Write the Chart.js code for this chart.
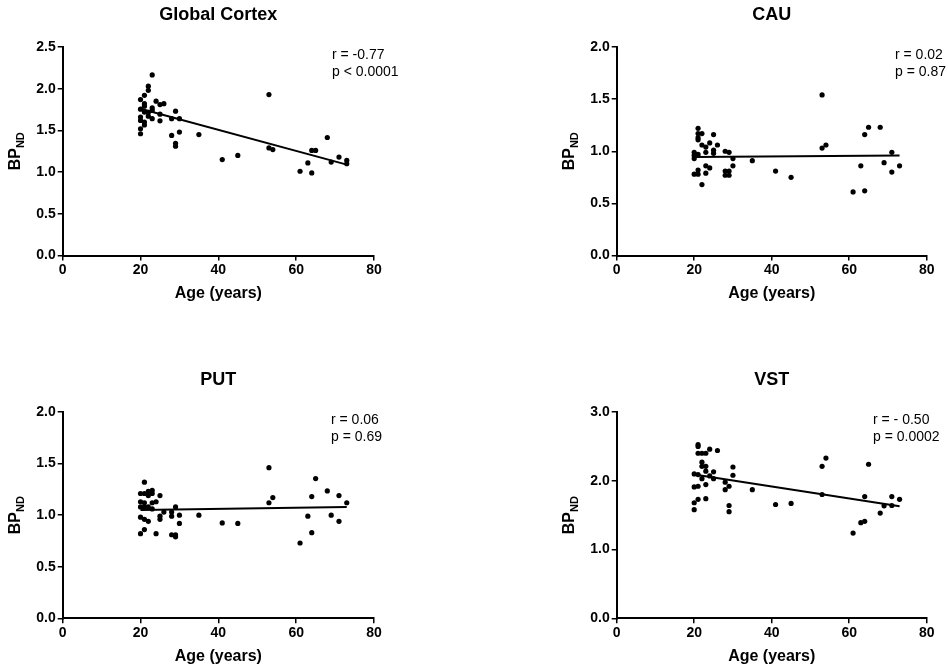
<!DOCTYPE html>
<html lang="en">
<head>
    <meta charset="UTF-8">
    <title>BPND vs Age</title>
    <style>
        body {
            margin: 0;
            width: 948px;
            height: 670px;
            overflow: hidden;
            background: #ffffff;
            position: relative;
        }
        .panel {
            position: absolute;
            width: 474px;
            height: 335px;
        }
    </style>
    <script src="https://cdn.jsdelivr.net/npm/chart.js"></script>
</head>
<body>

    <div class="panel" style="left:0;top:0"><canvas id="chart1" width="474" height="335"></canvas></div>
    <div class="panel" style="left:474px;top:0"><canvas id="chart2" width="474" height="335"></canvas></div>
    <div class="panel" style="left:0;top:335px"><canvas id="chart3" width="474" height="335"></canvas></div>
    <div class="panel" style="left:474px;top:335px"><canvas id="chart4" width="474" height="335"></canvas></div>

    <script>
        // Global Cortex
        const cortexAge = [20,20,20,20,20,20, 21,21,21,21,21,21, 22,22,22,22, 23,23,23,23, 24, 25,25,25, 26, 28,28, 29,29,29, 30,30, 35, 41, 45, 53,53, 54, 61, 63, 64,64, 65, 68, 69, 71, 73,73];
        const cortexBP  = [1.87,1.755,1.66,1.62,1.52,1.46, 1.92,1.82,1.79,1.72,1.60,1.565, 2.03,1.98,1.715,1.67, 2.165,1.77,1.74,1.64, 1.85, 1.81,1.695,1.615, 1.82, 1.64,1.44, 1.73,1.345,1.31, 1.64,1.48, 1.45, 1.15, 1.20, 1.93,1.29, 1.27, 1.01, 1.11, 1.26,0.99, 1.26, 1.415, 1.12, 1.18, 1.14,1.10];
        const cortexFitX = [20, 73];
        const cortexFitY = [1.76, 1.09];

        // CAU
        const cauAge = [20,20,20,20, 21,21,21,21,21,21,21, 22,22,22, 23,23,23,23, 24,24, 25,25,25, 26, 28,28,28, 29,29,29, 30,30, 35, 41, 45, 53,53, 54, 61, 63, 64,64, 65, 68, 69, 71,71, 73];
        const cauBP  = [0.99,0.96,0.93,0.78, 1.22,1.17,1.13,1.11,0.97,0.82,0.78, 1.17,1.06,0.68, 1.04,0.99,0.86,0.79, 1.08,0.84, 1.16,1.01,0.98, 1.06, 1.00,0.81,0.77, 0.99,0.81,0.77, 0.93,0.86, 0.91, 0.81, 0.75, 1.54,1.03, 1.06, 0.61, 0.86, 1.16,0.62, 1.23, 1.23, 0.89, 0.99,0.80, 0.86];
        const cauFitX = [20, 73];
        const cauFitY = [0.945, 0.96];

        // PUT
        const putAge = [20,20,20,20,20, 21,21,21,21,21,21, 22,22,22,22, 23,23,23,23, 24,24, 25,25,25, 26, 28,28,28, 29,29,29, 30,30, 35, 41, 45, 53,53, 54, 61, 63, 64,64, 65, 68, 69, 71,71, 73];
        const putBP  = [1.21,1.13,1.08,0.98,0.82, 1.32,1.21,1.12,1.08,0.96,0.86, 1.23,1.19,1.08,0.94, 1.24,1.21,1.12,1.06, 1.13,0.82, 1.19,0.99,0.96, 1.03, 1.03,0.99,0.81, 1.08,0.81,0.79, 1.00,0.92, 1.00, 0.925, 0.92, 1.46,1.12, 1.17, 0.73, 0.99, 1.18,0.83, 1.355, 1.235, 1.00, 1.19,0.94, 1.12];
        const putFitX = [20, 73];
        const putFitY = [1.05, 1.08];

        // VST
        const vstAge = [20,20,20,20, 21,21,21,21,21,21, 22,22,22,22, 23,23,23,23,23, 24,24, 25,25, 26, 28,28, 29,29,29, 30,30, 35, 41, 45, 53,53, 54, 61, 63, 64,64, 65, 68, 69, 71,71, 73];
        const vstBP  = [2.10,1.91,1.68,1.58, 2.525,2.50,2.40,2.09,1.92,1.73, 2.40,2.27,2.21,2.03, 2.40,2.21,2.14,1.945,1.74, 2.46,2.07, 2.13,2.03, 2.44, 1.98,1.87, 1.92,1.64,1.55, 2.20,2.08, 1.87, 1.655, 1.67, 2.21,1.80, 2.33, 1.24, 1.39, 1.77,1.41, 2.24, 1.53, 1.635, 1.77,1.64, 1.73];
        const vstFitX = [20, 73];
        const vstFitY = [2.09, 1.63];

        const titles = ['Global Cortex', 'CAU', 'PUT', 'VST'];
        const statR = ['r = -0.77', 'r = 0.02', 'r = 0.06', 'r = - 0.50'];
        const statP = ['p < 0.0001', 'p = 0.87', 'p = 0.69', 'p = 0.0002'];
        const yMax = [2.5, 2.0, 2.0, 3.0];
        const yStep = [0.5, 0.5, 0.5, 1.0];
        const xTicks = [0, 20, 40, 60, 80];

        const FONT = "'Liberation Sans', Arial, sans-serif";
        Chart.defaults.font.family = FONT;
        Chart.defaults.color = '#000';

        // plot area of each panel inside its 474x335 canvas
        const panels = [
            { id: 'chart1', l: 62.7, r: 374, t: 47, b: 255.5, textX: 332, age: cortexAge, bp: cortexBP, fx: cortexFitX, fy: cortexFitY },
            { id: 'chart2', l: 142.7, r: 452.7, t: 47, b: 255.5, textX: 421, age: cauAge, bp: cauBP, fx: cauFitX, fy: cauFitY },
            { id: 'chart3', l: 62.7, r: 374, t: 77, b: 283.3, textX: 331, age: putAge, bp: putBP, fx: putFitX, fy: putFitY },
            { id: 'chart4', l: 142.7, r: 452.7, t: 77, b: 283.3, textX: 399, age: vstAge, bp: vstBP, fx: vstFitX, fy: vstFitY }
        ];

        // titles, axis titles and r / p text
        const panelText = {
            id: 'panelText',
            afterDraw(chart, args, opts) {
                const ctx = chart.ctx;
                const a = chart.chartArea;
                const cx = (a.left + a.right) / 2;
                const cy = (a.top + a.bottom) / 2;
                ctx.save();
                ctx.fillStyle = '#000';
                ctx.textBaseline = 'middle';

                ctx.textAlign = 'center';
                ctx.font = 'bold 18px ' + FONT;
                ctx.fillText(opts.title, cx, a.top - 32);

                ctx.font = 'bold 16px ' + FONT;
                ctx.fillText('Age (years)', cx, a.bottom + 38);

                ctx.textAlign = 'left';
                ctx.font = '14px ' + FONT;
                ctx.fillText(opts.r, opts.textX, a.top + 8);
                ctx.fillText(opts.p, opts.textX, a.top + 25);

                // BP with ND subscript, rotated
                ctx.translate(a.left - 47, cy);
                ctx.rotate(-Math.PI / 2);
                ctx.font = 'bold 16px ' + FONT;
                const w1 = ctx.measureText('BP').width;
                ctx.font = 'bold 11px ' + FONT;
                const w2 = ctx.measureText('ND').width;
                const x0 = -(w1 + w2) / 2;
                ctx.font = 'bold 16px ' + FONT;
                ctx.fillText('BP', x0, 0);
                ctx.font = 'bold 11px ' + FONT;
                ctx.fillText('ND', x0 + w1, 5);
                ctx.restore();
            }
        };

        panels.forEach((p, i) => {
            const points = p.age.map((a, k) => ({ x: a, y: p.bp[k] }));
            const fit = p.fx.map((a, k) => ({ x: a, y: p.fy[k] }));
            const H = 335, W = 474;

            new Chart(document.getElementById(p.id), {
                type: 'scatter',
                data: {
                    datasets: [
                        {
                            data: fit,
                            showLine: true,
                            borderColor: '#000',
                            borderWidth: 2,
                            pointRadius: 0
                        },
                        {
                            data: points,
                            backgroundColor: '#000',
                            borderColor: '#000',
                            pointRadius: 2.6,
                            borderWidth: 0
                        }
                    ]
                },
                options: {
                    responsive: false,
                    animation: false,
                    layout: {
                        padding: { left: p.l - 62, right: W - p.r, top: p.t, bottom: 0 }
                    },
                    plugins: {
                        legend: { display: false },
                        tooltip: { enabled: false },
                        panelText: { title: titles[i], r: statR[i], p: statP[i], textX: p.textX }
                    },
                    scales: {
                        x: {
                            type: 'linear',
                            min: 0,
                            max: 80,
                            afterFit(scale) { scale.height = H - p.b; },
                            afterBuildTicks(scale) { scale.ticks = xTicks.map(v => ({ value: v })); },
                            border: { color: '#000', width: 2 },
                            grid: { drawOnChartArea: false, drawTicks: true, tickLength: 5, color: '#000', lineWidth: 1.5 },
                            ticks: { font: { size: 14, weight: 'bold' }, padding: 1, color: '#000', maxRotation: 0 }
                        },
                        y: {
                            min: 0,
                            max: yMax[i],
                            afterFit(scale) { scale.width = 62; },
                            border: { color: '#000', width: 2 },
                            grid: { drawOnChartArea: false, drawTicks: true, tickLength: 5, color: '#000', lineWidth: 1.5 },
                            ticks: {
                                stepSize: yStep[i],
                                font: { size: 14, weight: 'bold' },
                                padding: 2,
                                color: '#000',
                                callback: v => v.toFixed(1)
                            }
                        }
                    }
                },
                plugins: [panelText]
            });
        });
    </script>
</body>
</html>
